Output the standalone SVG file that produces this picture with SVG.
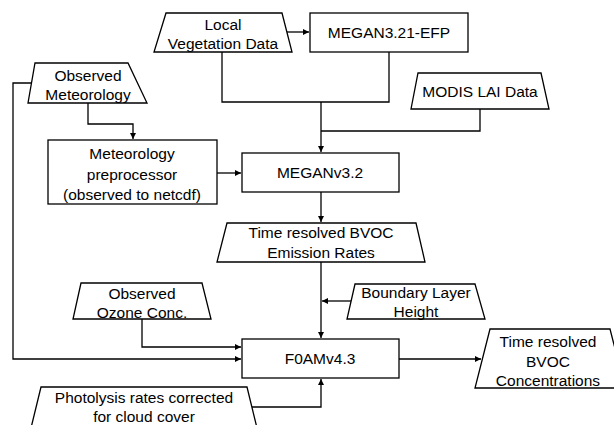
<svg xmlns="http://www.w3.org/2000/svg" width="614" height="425" viewBox="0 0 614 425">
<defs>
<marker id="ah" markerUnits="userSpaceOnUse" markerWidth="7" markerHeight="6" refX="6" refY="3" orient="auto">
<path d="M0,0 L6,3 L0,6 Z" fill="#000"/>
</marker>
<style>
.n{fill:#fff;stroke:#000;stroke-width:1.3}
.t{font-family:"Liberation Sans",Arial,sans-serif;font-size:15.5px;fill:#000;text-anchor:middle}
.c{fill:none;stroke:#000;stroke-width:1.3}
.a{marker-end:url(#ah)}
</style>
</defs>
<rect width="614" height="425" fill="#fff"/>
<g id="connectors">
<path class="c a" d="M287,32 H309"/>
<path class="c" d="M222,52 V102 H321"/>
<path class="c" d="M389,52 V102 H321"/>
<path class="c a" d="M321,102 V152"/>
<path class="c" d="M480,109 V131 H321"/>
<path class="c a" d="M88,103 V124 H133 V139"/>
<path class="c a" d="M32,83 H13 V359 H241"/>
<path class="c a" d="M217,173 H241"/>
<path class="c a" d="M321,192 V222"/>
<path class="c a" d="M321,262 V338"/>
<path class="c a" d="M351,301 H322"/>
<path class="c a" d="M142,319 V347 H241"/>
<path class="c a" d="M399,359 H481"/>
<path class="c a" d="M252,407 H321 V379"/>
</g>
<g id="lvd">
<polygon class="n" points="166,13 282,13 292,52 154,52"/>
<text class="t" x="223" y="30">Local</text>
<text class="t" x="223" y="49">Vegetation Data</text>
</g>
<g id="efp">
<rect class="n" x="310" y="13" width="158" height="39"/>
<text class="t" x="389" y="38">MEGAN3.21-EFP</text>
</g>
<g id="modis">
<polygon class="n" points="418,73 541,73 549,109 411,109"/>
<text class="t" x="480" y="97">MODIS LAI Data</text>
</g>
<g id="obsmet">
<polygon class="n" points="35,63 128,63 147,103 28,103"/>
<text class="t" x="88" y="81">Observed</text>
<text class="t" x="88" y="100">Meteorology</text>
</g>
<g id="preproc">
<rect class="n" x="48" y="140" width="169" height="64"/>
<text class="t" x="132" y="159">Meteorology</text>
<text class="t" x="132" y="180">preprocessor</text>
<text class="t" x="132" y="200">(observed to netcdf)</text>
</g>
<g id="megan">
<rect class="n" x="242" y="153" width="157" height="39"/>
<text class="t" x="320" y="178">MEGANv3.2</text>
</g>
<g id="emis">
<polygon class="n" points="227,223 416,223 425,262 217,262"/>
<text class="t" x="321" y="238">Time resolved BVOC</text>
<text class="t" x="321" y="258">Emission Rates</text>
</g>
<g id="blh">
<polygon class="n" points="355,284 475,284 485,319 347,319"/>
<text class="t" x="416" y="298">Boundary Layer</text>
<text class="t" x="416" y="317">Height</text>
</g>
<g id="ozone">
<polygon class="n" points="81,283 202,283 211,319 73,319"/>
<text class="t" x="142" y="299">Observed</text>
<text class="t" x="142" y="318">Ozone Conc.</text>
</g>
<g id="foam">
<rect class="n" x="242" y="339" width="157" height="39"/>
<text class="t" x="320" y="364">F0AMv4.3</text>
</g>
<g id="conc">
<polygon class="n" points="490,329 610,329 625,388 475,388"/>
<text class="t" x="548" y="347">Time resolved</text>
<text class="t" x="548" y="367">BVOC</text>
<text class="t" x="548" y="386">Concentrations</text>
</g>
<g id="photo">
<polygon class="n" points="41,387 247,387 257,428 31,428"/>
<text class="t" x="144" y="403">Photolysis rates corrected</text>
<text class="t" x="144" y="422">for cloud cover</text>
</g>
</svg>
